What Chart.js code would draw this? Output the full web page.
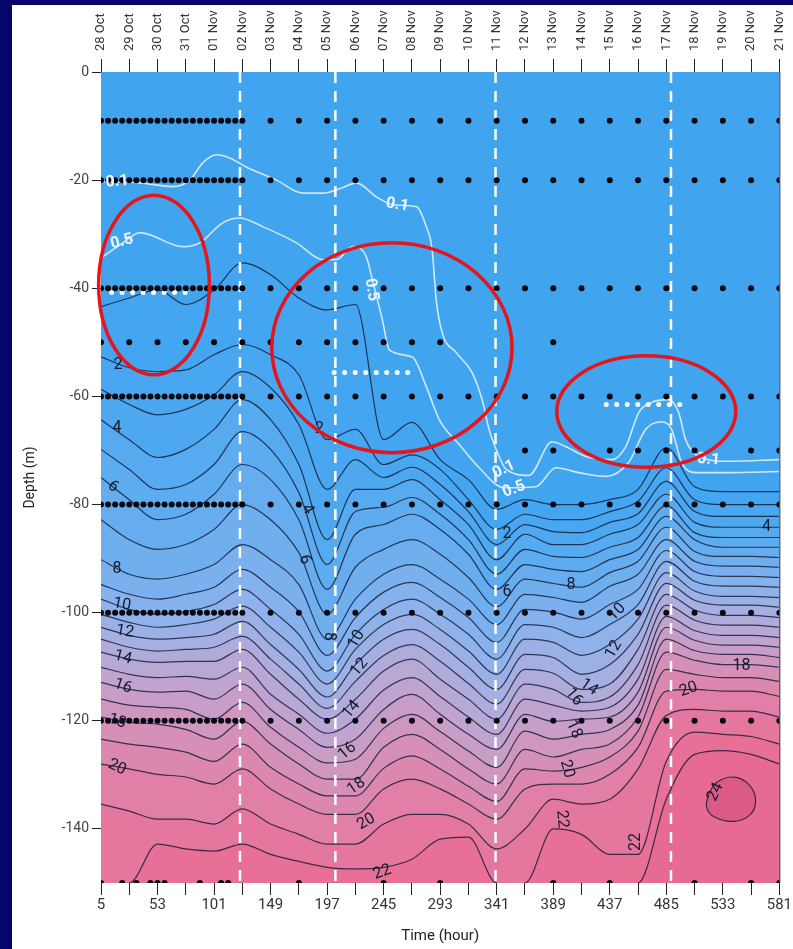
<!DOCTYPE html>
<html>
<head>
<meta charset="utf-8">
<script src="https://cdn.jsdelivr.net/npm/chart.js@4.4.1/dist/chart.umd.min.js"></script>
<style>
  html, body { margin: 0; padding: 0; background: #06066a; }
  #wrap { position: absolute; left: 12px; top: 5px; width: 781px; height: 944px; background: #fff; }
</style>
</head>
<body>
<div id="wrap"><canvas id="chart" width="781" height="944"></canvas></div>
<script>
// time axis (hours) and the calendar days printed on top
const hourTicks = [5, 29, 53, 77, 101, 125, 149, 173, 197, 221, 245, 269, 293, 317, 341, 365, 389, 413, 437, 461, 485, 509, 533, 557, 581];
const dateLabels = ['28 Oct', '29 Oct', '30 Oct', '31 Oct', '01 Nov', '02 Nov', '03 Nov', '04 Nov', '05 Nov', '06 Nov', '07 Nov', '08 Nov', '09 Nov',
  '10 Nov', '11 Nov', '12 Nov', '13 Nov', '14 Nov', '15 Nov', '16 Nov', '17 Nov', '18 Nov', '19 Nov', '20 Nov', '21 Nov'];
const depthTicks = [0, -20, -40, -60, -80, -100, -120, -140];

// depth (m) of each contour level, read at every hourTicks value
const c01 = [-43.4, -41.8, -40.3, -43.0, -40.3, -35.3, -37.5, -41.8, -44.0, -43.0, -68.0, -64.8, -71.7, -75.4, -80.9, -79.1, -80.0, -80.0, -79.1, -77.2, -69.5, -76.7, -77.6, -77.6, -77.6];
const c02 = [-52.7, -54.7, -55.4, -55.1, -52.3, -50.4, -52.3, -56.0, -68.0, -66.1, -72.6, -70.8, -73.5, -79.1, -84.6, -81.8, -82.8, -82.8, -81.3, -79.4, -73.2, -79.1, -80.0, -80.0, -80.0];
const c03 = [-58.7, -61.5, -63.4, -62.4, -59.7, -55.4, -58.4, -65.2, -77.2, -71.7, -75.0, -73.1, -76.3, -81.3, -87.4, -83.7, -85.0, -85.2, -83.3, -81.7, -75.7, -81.3, -82.2, -82.2, -82.2];
const c04 = [-64.3, -68.0, -71.3, -69.8, -66.1, -60.6, -64.3, -72.6, -86.5, -77.2, -77.2, -75.4, -79.1, -83.7, -90.2, -85.5, -87.4, -87.4, -85.5, -83.7, -78.1, -83.3, -84.2, -84.2, -84.2];
const c05 = [-69.8, -73.5, -77.2, -76.3, -72.6, -66.5, -69.8, -77.8, -91.1, -81.3, -80.5, -78.7, -81.8, -86.5, -92.9, -88.3, -89.6, -89.8, -87.9, -86.1, -80.2, -85.2, -86.1, -86.1, -86.1];
const c06 = [-75.0, -79.1, -82.8, -81.8, -78.1, -72.6, -75.4, -82.8, -95.7, -85.5, -83.7, -81.8, -84.6, -89.2, -95.7, -91.1, -92.0, -92.4, -90.2, -88.3, -82.2, -86.5, -87.9, -87.9, -87.9];
const c07 = [-82.8, -86.5, -88.3, -87.4, -84.6, -80.0, -82.8, -88.9, -100.3, -91.6, -88.3, -86.5, -89.2, -93.5, -98.9, -93.8, -94.6, -95.3, -92.6, -90.5, -84.2, -88.7, -89.6, -89.6, -89.8];
const c08 = [-90.2, -92.9, -93.8, -92.9, -91.1, -87.4, -90.2, -94.8, -104.9, -97.5, -92.9, -91.1, -93.8, -97.5, -102.2, -96.6, -97.2, -98.1, -95.1, -92.9, -86.5, -90.5, -91.4, -91.4, -91.6];
const c09 = [-94.8, -96.6, -97.5, -96.6, -95.3, -92.0, -95.3, -99.8, -107.9, -100.9, -96.2, -94.4, -97.2, -100.9, -105.5, -99.4, -99.9, -101.2, -98.5, -95.7, -88.5, -92.4, -93.3, -93.3, -93.5];
const c10 = [-97.5, -99.4, -100.3, -99.8, -98.5, -95.7, -99.4, -104.0, -110.8, -104.0, -99.4, -97.5, -100.3, -104.0, -108.6, -102.2, -102.7, -104.6, -102.2, -98.5, -90.5, -94.2, -95.1, -95.1, -95.3];
const c11 = [-100.3, -101.8, -102.7, -102.2, -101.2, -98.8, -102.7, -107.3, -113.2, -106.8, -102.2, -100.3, -103.1, -107.1, -111.4, -104.9, -105.5, -107.9, -105.9, -101.2, -92.6, -96.0, -97.0, -97.0, -97.2];
const c12 = [-102.7, -104.2, -104.9, -104.6, -104.0, -101.6, -105.9, -110.5, -115.6, -109.6, -104.9, -103.1, -105.9, -110.1, -114.2, -107.7, -108.3, -111.4, -109.6, -104.0, -94.6, -97.7, -98.6, -98.6, -99.0];
const c13 = [-104.9, -106.4, -107.1, -106.8, -106.4, -104.4, -108.6, -113.2, -117.7, -112.7, -107.9, -105.9, -109.0, -113.1, -116.9, -110.5, -111.2, -114.2, -113.2, -106.8, -96.6, -99.5, -100.5, -100.5, -100.9];
const c14 = [-107.3, -108.6, -109.2, -109.0, -109.0, -106.8, -111.4, -116.0, -119.7, -116.0, -110.8, -108.6, -112.3, -116.0, -119.7, -113.2, -114.2, -116.6, -115.6, -109.6, -98.6, -101.4, -102.3, -102.3, -102.7];
const c15 = [-110.1, -111.4, -112.0, -111.8, -112.3, -110.1, -115.1, -118.8, -122.3, -119.7, -114.3, -112.0, -115.5, -119.3, -122.5, -116.0, -117.1, -118.2, -117.5, -112.3, -100.7, -103.3, -104.2, -104.2, -104.6];
const c16 = [-112.9, -114.2, -114.7, -114.5, -116.0, -113.2, -117.9, -121.6, -124.9, -123.4, -117.9, -115.1, -118.8, -122.5, -125.3, -118.8, -120.1, -119.7, -119.3, -114.7, -102.7, -105.1, -106.0, -106.0, -106.4];
const c17 = [-116.0, -117.1, -117.5, -117.9, -119.7, -116.6, -121.2, -124.9, -127.8, -127.1, -121.4, -118.8, -122.0, -125.6, -128.6, -121.9, -123.4, -122.5, -121.6, -117.1, -104.9, -107.0, -107.7, -107.7, -108.3];
const c18 = [-119.3, -120.3, -120.6, -121.6, -123.4, -120.1, -124.3, -128.0, -130.8, -130.8, -124.9, -122.5, -125.3, -128.9, -131.7, -125.3, -126.7, -125.3, -124.3, -119.3, -107.3, -108.8, -109.6, -109.6, -110.1];
const c19 = [-123.4, -124.3, -124.9, -125.8, -127.5, -124.3, -128.6, -131.7, -133.9, -133.9, -128.8, -126.5, -128.9, -132.1, -134.9, -128.9, -129.3, -128.6, -126.7, -121.9, -110.5, -111.4, -112.0, -112.0, -112.7];
const c20 = [-128.0, -128.9, -129.9, -130.4, -131.7, -128.9, -132.6, -135.4, -137.3, -137.3, -132.6, -130.8, -132.6, -135.4, -138.2, -132.6, -131.7, -131.7, -129.9, -124.9, -114.5, -114.2, -114.5, -114.5, -115.5];
const c21 = [-135.4, -136.7, -138.2, -138.2, -139.1, -136.3, -139.1, -141.0, -142.8, -142.8, -139.1, -137.3, -137.3, -139.1, -143.7, -140.0, -134.5, -135.4, -134.5, -128.9, -119.0, -117.9, -118.2, -118.2, -119.3];
const c22 = [-150, -150, -142.8, -143.7, -144.1, -142.8, -144.7, -146.0, -147.1, -147.4, -147.1, -145.6, -141.9, -141.5, -150, -150, -140.0, -141.0, -144.7, -144.7, -127.5, -122.1, -122.5, -122.9, -124.3];
const c23 = [-150, -150, -150, -150, -150, -150, -150, -150, -150, -150, -150, -150, -150, -150, -150, -150, -150, -150, -150, -150, -134.5, -126.2, -125.5, -126.2, -128.0];
const contourRows = [c01, c02, c03, c04, c05, c06, c07, c08, c09, c10, c11, c12, c13, c14, c15, c16, c17, c18, c19, c20, c21, c22, c23];

// closed 24 contour
const loop24Hours = [520.9, 527.7, 542.1, 554.8, 560.8, 556.5, 542.1, 526.0, 519.2, 520.9];
const loop24Depths = [-133.6, -131.4, -130.4, -131.7, -134.5, -137.3, -138.6, -137.8, -136.0, -133.6];

// white 0.1 and 0.5 contours
const iso01Hours = [5, 38, 66, 80.4, 91.4, 103.3, 114.3, 128.7, 154.1, 176.1, 193.1, 210, 221.9, 238.9, 254.1, 272.7, 281.2, 286.2, 289.6, 294.7, 306.6, 320.1, 328.6, 334.5, 340.5, 349, 368.4, 387.9, 399.8, 416.7, 438.7, 450.6, 461.6, 472.6, 487, 495.5, 501.4, 512.4, 537.8, 581];
const iso01Depths = [-20.3, -20.5, -21.2, -20, -16.8, -15.3, -15.9, -17.6, -20, -22.4, -22.4, -21.4, -20.5, -23.1, -24.6, -24.9, -28.6, -32.9, -42.1, -48.2, -51.9, -55.6, -60.6, -66.1, -69.8, -73.5, -74.6, -68.4, -69.3, -71.1, -71.7, -69.3, -63, -61.1, -60.6, -63, -68, -71.1, -72, -71.7];
const iso05Hours = [5, 23.6, 38, 74.5, 88.9, 108.3, 122.7, 142.2, 171, 193.1, 204.9, 218.5, 230.3, 235.4, 243.9, 249.8, 269.3, 281.2, 292.2, 309.2, 326.1, 347.2, 374.3, 391.3, 410.8, 433.6, 453.1, 467.5, 481.1, 489.5, 498, 509.9, 537.8, 581];
const iso05Depths = [-34.4, -31.6, -29.7, -32.3, -31.6, -27.9, -27, -28.6, -31.6, -34.7, -34.7, -32.3, -34.2, -38.4, -45.8, -51.4, -52.7, -58.2, -64.3, -68.9, -73.2, -76.9, -76.7, -73.2, -74.1, -74.8, -72.2, -66.1, -64.7, -66.1, -72.2, -74.1, -74.1, -73.9];

// CTD sampling points
const denseHours = [5, 11, 17, 23, 29, 35, 41, 47, 53, 59, 65, 71, 77, 83, 89, 95, 101, 107, 113, 119, 125];
const sparseHours = [149, 173, 197, 221, 245, 269, 293, 317, 341, 365, 389, 413, 437, 461, 485, 509, 533, 557, 581];
const fullRowDepths = [-9, -20, -40, -60, -80, -100, -120];
const row50Hours = [5, 29, 53, 77, 101, 125, 149, 173, 197, 221, 245, 269, 293, 389];
const row70Hours = [365, 389, 437, 461, 485, 509, 557, 581];
const row150Hours = [5, 23, 35, 47, 53, 59, 89, 107, 113, 173, 245, 293, 389, 437, 509, 557, 581];

// annotations
const markerHours = [123, 204, 340, 489];
const segStartHours = [14, 203, 434];
const segEndHours = [78, 268, 498];
const segDepths = [-40.8, -55.6, -61.5];
const ellipseHours = [50, 252, 468];
const ellipseDepths = [-39.4, -51, -62.8];
const ellipseHalfHours = [47, 102, 76];
const ellipseHalfDepths = [16.6, 19.4, 10.3];

const blackLabelText = ['2', '4', '6', '8', '10', '12', '14', '16', '18', '20', '2', '4', '6', '8', '10', '12', '14', '16', '18', '20', '22',
  '2', '6', '8', '10', '12', '14', '16', '18', '20', '22', '22', '20', '18', '4', '24'];
const blackLabelHours = [19.4, 18.6, 15.2, 18.6, 22.8, 25.3, 23.6, 23.6, 18.6, 18.6, 190.5, 180.3, 177.8, 199, 221.9, 224.4, 217.6, 214.2, 221.9, 230.3, 243.9,
  349.8, 349.8, 404, 443, 440.4, 419.2, 406.5, 406.5, 400.6, 396.4, 459, 503.9, 548.8, 570, 526.8];
const blackLabelDepths = [-54.1, -65.8, -76.7, -92, -98.5, -103.5, -108.3, -113.6, -120.1, -128.6, -66.1, -80.9, -90.2, -104.4, -104.9, -110.1, -117.9, -125.6, -132.1, -138.7, -148,
  -85.5, -96.2, -94.8, -99.9, -106.8, -113.8, -115.6, -121.6, -128.9, -138.2, -142.4, -114.2, -109.9, -84.2, -133.2];
const blackLabelAngles = [0, 0, 40, 0, 10, 10, 15, 20, 20, 25, 0, 60, 70, 90, -60, -50, -50, -40, -35, -30, -20,
  0, 0, 0, -45, -60, 35, 50, 65, 75, 85, -90, -20, 0, 0, -65];
const whiteLabelText = ['0.1', '0.5', '0.1', '0.5', '0.1', '0.5', '0.1'];
const whiteLabelHours = [18.6, 22.8, 256.6, 234.6, 347.2, 355.7, 520.9];
const whiteLabelDepths = [-20.3, -31.4, -24.6, -40.3, -73.5, -77.2, -71.7];
const whiteLabelAngles = [-5, -15, 10, 80, -25, -20, 5];

const topBlue = '#40a4ee';
const bandColors = ['#44a6f0', '#48a7f0', '#4ea8f0', '#55aaf0', '#5dacf0', '#66adef', '#70afee', '#7ab0ed', '#85b1ec', '#90b2ea',
  '#9bb1e6', '#a5afe1', '#afacdc', '#b8a8d6', '#c0a3cf', '#c89dc7', '#cf97bf', '#d68fb7', '#dc87ae', '#e17fa6', '#e5779e', '#e87097', '#e66a92'];
const loopColor = '#dc5a88';
const ink = 'rgba(18,24,50,0.8)';
const fontFamily = "'Liberation Sans Narrow', 'Roboto', 'Liberation Sans', sans-serif";
Chart.defaults.font.family = fontFamily;

const pairs = (xs, ys) => xs.map((v, i) => ({ x: v, y: ys[i] }));
const hideFloor = c => (c.p0.parsed.y <= -149.9 && c.p1.parsed.y <= -149.9) ? 'rgba(0,0,0,0)' : undefined;

const datasets = [];
contourRows.forEach((row, k) => {
  datasets.push({
    data: pairs(hourTicks, row),
    borderColor: ink, borderWidth: 1.2, pointRadius: 0,
    fill: 'start', backgroundColor: bandColors[k],
    cubicInterpolationMode: 'monotone',
    order: 100 - k,
    segment: { borderColor: hideFloor }
  });
});
datasets.push({
  data: pairs(loop24Hours, loop24Depths),
  borderColor: ink, borderWidth: 1.2, pointRadius: 0,
  fill: 'shape', backgroundColor: loopColor, tension: 0.4, order: 60
});
[[iso01Hours, iso01Depths], [iso05Hours, iso05Depths]].forEach(([h, d]) => {
  datasets.push({
    data: pairs(h, d), borderColor: 'rgba(225,240,255,0.9)', borderWidth: 1.6,
    pointRadius: 0, fill: false, cubicInterpolationMode: 'monotone', order: 5
  });
});
markerHours.forEach(h => {
  datasets.push({
    data: [{ x: h, y: 0 }, { x: h, y: -150 }], borderColor: '#fff', borderWidth: 2.5,
    borderDash: [11, 8], pointRadius: 0, fill: false, order: 2
  });
});
segStartHours.forEach((h, i) => {
  datasets.push({
    data: [{ x: h, y: segDepths[i] }, { x: segEndHours[i], y: segDepths[i] }], borderColor: '#fff', borderWidth: 5,
    borderDash: [0, 10.5], borderCapStyle: 'round', pointRadius: 0, fill: false, order: 2
  });
});
const samples = [];
fullRowDepths.forEach(d => {
  denseHours.forEach(h => samples.push({ x: h, y: d }));
  sparseHours.forEach(h => samples.push({ x: h, y: d }));
});
row50Hours.forEach(h => samples.push({ x: h, y: -50 }));
row70Hours.forEach(h => samples.push({ x: h, y: -70 }));
row150Hours.forEach(h => samples.push({ x: h, y: -150 }));
datasets.push({
  data: samples, showLine: false, pointRadius: 3, pointBackgroundColor: '#07070f',
  pointBorderWidth: 0, order: 0
});

function drawLabels(ctx, x, y, texts, hours, depths, angles, color, weight) {
  ctx.fillStyle = color;
  ctx.font = weight + ' 16px ' + fontFamily;
  ctx.textAlign = 'center';
  ctx.textBaseline = 'middle';
  texts.forEach((t, i) => {
    ctx.save();
    ctx.translate(x.getPixelForValue(hours[i]), y.getPixelForValue(depths[i]));
    ctx.rotate(angles[i] * Math.PI / 180);
    ctx.fillText(t, 0, 0);
    ctx.restore();
  });
}

const backdrop = {
  id: 'backdrop',
  beforeDatasetsDraw(chart) {
    const { ctx, chartArea: a } = chart;
    ctx.save();
    ctx.fillStyle = topBlue;
    ctx.fillRect(a.left, a.top, a.right - a.left, a.bottom - a.top);
    ctx.restore();
  },
  afterDatasetsDraw(chart) {
    const { ctx, chartArea: a } = chart;
    const x = chart.scales.x, y = chart.scales.y;
    ctx.save();
    drawLabels(ctx, x, y, blackLabelText, blackLabelHours, blackLabelDepths, blackLabelAngles, '#141a2c', 'normal');
    drawLabels(ctx, x, y, whiteLabelText, whiteLabelHours, whiteLabelDepths, whiteLabelAngles, '#eef6ff', 'bold');
    ctx.strokeStyle = '#333';
    ctx.lineWidth = 1;
    ctx.beginPath();
    ctx.moveTo(a.right + 0.5, a.top);
    ctx.lineTo(a.right + 0.5, a.bottom);
    ctx.stroke();
    ctx.strokeStyle = '#e3161b';
    ctx.lineWidth = 3.5;
    ellipseHours.forEach((h, i) => {
      const cx = x.getPixelForValue(h), cy = y.getPixelForValue(ellipseDepths[i]);
      const rx = Math.abs(x.getPixelForValue(h + ellipseHalfHours[i]) - cx);
      const ry = Math.abs(y.getPixelForValue(ellipseDepths[i] + ellipseHalfDepths[i]) - cy);
      ctx.beginPath();
      ctx.ellipse(cx, cy, rx, ry, 0, 0, Math.PI * 2);
      ctx.stroke();
    });
    // calendar dates above the top ticks, reading upwards
    ctx.fillStyle = '#333';
    ctx.font = '13px ' + fontFamily;
    ctx.textAlign = 'left';
    ctx.textBaseline = 'middle';
    hourTicks.forEach((h, i) => {
      ctx.save();
      ctx.translate(chart.scales.x2.getPixelForValue(h), a.top - 21);
      ctx.rotate(-Math.PI / 2);
      ctx.fillText(dateLabels[i], 0, 0);
      ctx.restore();
    });
    ctx.restore();
  }
};

const setHourTicks = ax => { ax.ticks = hourTicks.map(v => ({ value: v })); };

new Chart(document.getElementById('chart'), {
  type: 'line',
  data: { datasets },
  options: {
    responsive: false,
    animation: false,
    layout: { padding: { left: 0, right: 12, top: 0, bottom: 0 }, autoPadding: false },
    plugins: { legend: { display: false }, tooltip: { enabled: false } },
    scales: {
      x: {
        type: 'linear', position: 'bottom', min: 5, max: 581,
        afterBuildTicks: setHourTicks,
        afterFit: ax => { ax.height = 66; },
        ticks: {
          autoSkip: false, maxRotation: 0, color: '#333', font: { size: 15 }, padding: 1,
          callback: v => ((v - 5) % 48 === 0 ? String(v) : '')
        },
        grid: { drawOnChartArea: false, tickLength: 12, color: '#222' },
        border: { display: false },
        title: { display: true, text: 'Time (hour)', color: '#222', font: { size: 15 }, padding: { top: 0, bottom: 4 } }
      },
      x2: {
        type: 'linear', position: 'top', min: 5, max: 581,
        afterBuildTicks: setHourTicks,
        afterFit: ax => { ax.height = 67; },
        ticks: { display: false, autoSkip: false },
        grid: { drawOnChartArea: false, tickLength: 13, color: '#222' },
        border: { display: false }
      },
      y: {
        type: 'linear', min: -150, max: 0,
        afterBuildTicks: ax => { ax.ticks = depthTicks.map(v => ({ value: v })); },
        afterFit: ax => { ax.width = 89; },
        ticks: { color: '#444', font: { size: 14 }, padding: 3, callback: v => String(v) },
        grid: { drawOnChartArea: false, tickLength: 9, color: '#222' },
        border: { display: true, color: '#222', width: 1 },
        title: { display: true, text: 'Depth (m)', color: '#222', font: { size: 14 }, padding: { top: 10, bottom: 0 } }
      }
    }
  },
  plugins: [backdrop]
});
</script>
</body>
</html>
